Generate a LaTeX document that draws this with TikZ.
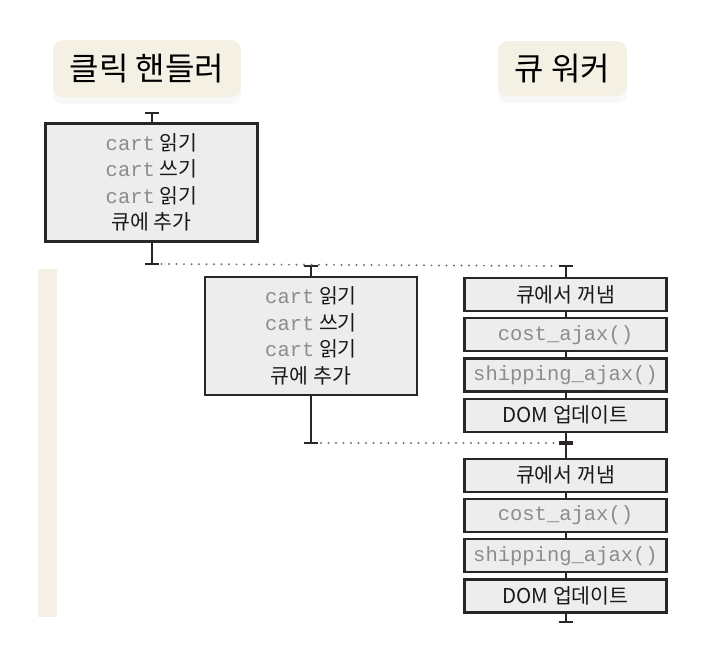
\documentclass[tikz,border=0pt]{standalone}
\usepackage{fontspec}
\setmainfont{Noto Sans CJK KR}
\setmonofont{Liberation Mono}
\usetikzlibrary{positioning,shadows}

\definecolor{cream}{HTML}{F4F1E4}
\definecolor{boxfill}{HTML}{EDEDED}
\definecolor{ink}{HTML}{2A2626}
\definecolor{codegray}{HTML}{8C8C8C}
\newcommand{\code}[1]{{\color{codegray}\fontsize{20.5}{26.5}\ttfamily #1}}

\begin{document}
\begin{tikzpicture}[x=1pt, y=-1pt, node distance=5pt,
    label/.style={fill=cream, rounded corners=10pt, inner sep=0pt,
      font=\fontsize{32}{36}\selectfont, text=black,
      drop shadow={opacity=0.06, shadow xshift=0pt, shadow yshift=-7pt}},
    job/.style={draw=ink, line width=2.2pt, fill=boxfill, minimum width=212pt,
      minimum height=118pt, align=center, inner sep=0pt,
      font=\fontsize{20.5}{26.5}\selectfont, text=black!90},
    task/.style={draw=ink, line width=2.2pt, fill=boxfill, minimum width=202pt,
      minimum height=33pt, inner sep=0pt,
      font=\fontsize{20.5}{22}\selectfont, text=black!90},
    spine/.style={draw=ink, line width=2pt},
    wait/.style={draw=black!55, line width=2.2pt, line cap=round, dash pattern=on 0pt off 7.5pt}]
  \useasboundingbox (0,0) rectangle (716,670);

  % headers
  \node[label, minimum width=188pt, minimum height=57pt] (click) at (147,68.5) {클릭 핸들러};
  \node[label, minimum width=129pt, minimum height=55pt] (worker) at (562.5,68.5) {큐 워커};

  % timeline strip
  \fill[cream] (38,269) rectangle (57,617);

  % click handler jobs
  \node[job] (job1) at (151.5,182.5) {\code{cart} 읽기\\\code{cart} 쓰기\\\code{cart} 읽기\\큐에 추가};
  \node[job] (job2) at (311,336) {\code{cart} 읽기\\\code{cart} 쓰기\\\code{cart} 읽기\\큐에 추가};

  % queue worker tasks
  \node[task] (pop1) at (565.5,294.5) {큐에서 꺼냄};
  \node[task] (cost1) [below=of pop1] {\code{cost\_ajax()}};
  \node[task] (ship1) [below=of cost1] {\code{shipping\_ajax()}};
  \node[task] (dom1) [below=of ship1] {DOM 업데이트};
  \node[task] (pop2) [below=25pt of dom1] {큐에서 꺼냄};
  \node[task] (cost2) [below=of pop2] {\code{cost\_ajax()}};
  \node[task] (ship2) [below=of cost2] {\code{shipping\_ajax()}};
  \node[task] (dom2) [below=of ship2] {DOM 업데이트};

  % ends of the threads
  \coordinate (s1) at (151.5,113);
  \coordinate (e1) at (151.5,264);
  \coordinate (s2) at (311,266);
  \coordinate (e2) at (311,443);
  \coordinate (w1) at (565.5,266);
  \coordinate (w2) at (565.5,443);
  \coordinate (w3) at (565.5,622);

  \draw[spine] (s1) -- (job1);
  \draw[spine] (job1) -- (e1);
  \draw[spine] (s2) -- (job2);
  \draw[spine] (job2) -- (e2);
  \draw[spine] (w1) -- (pop1);
  \draw[spine] (pop1) -- (cost1);
  \draw[spine] (cost1) -- (ship1);
  \draw[spine] (ship1) -- (dom1);
  \draw[spine] (dom1) -- (pop2);
  \draw[spine] (pop2) -- (cost2);
  \draw[spine] (cost2) -- (ship2);
  \draw[spine] (ship2) -- (dom2);
  \draw[spine] (dom2) -- (w3);

  % tee bars
  \foreach \c in {s1,e1,s2,e2,w1,w3}
    \draw[spine, line width=2.6pt] ([xshift=-7pt]\c) -- ([xshift=7pt]\c);
  \draw[ink, line width=4.5pt] ([xshift=-7pt]w2) -- ([xshift=7pt]w2);

  % waiting in the queue
  \draw[wait] ([xshift=10pt]e1) -- ([xshift=-8pt]w1);
  \draw[wait] ([xshift=10pt]e2) -- ([xshift=-9pt]w2);
\end{tikzpicture}
\end{document}
